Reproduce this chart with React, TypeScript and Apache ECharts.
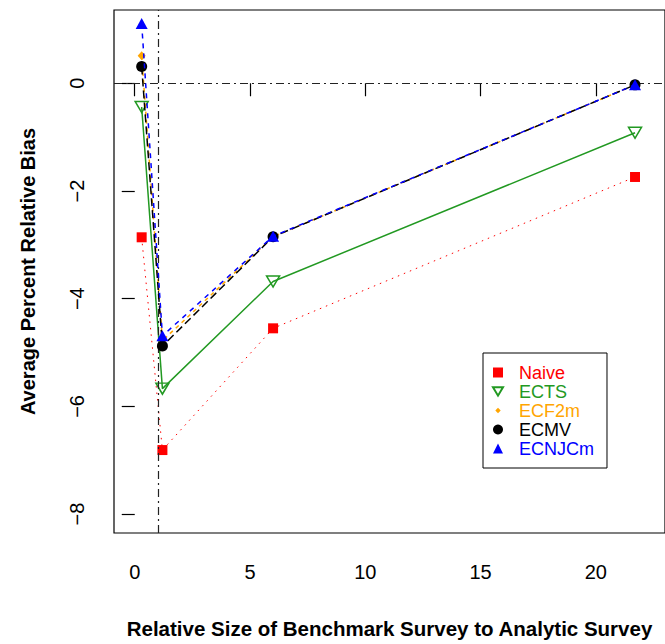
import React, { useEffect, useRef } from "react";
import * as echarts from "echarts";

const xVals = [0.3, 1.2, 6, 21.7];
const naive = [-2.86, -6.81, -4.55, -1.74];
const ects = [-0.44, -5.67, -3.68, -0.92];
const ecf2m = [0.51, -4.78, -2.85, -0.03];
const ecmv = [0.31, -4.88, -2.85, -0.03];
const ecnjcm = [1.11, -4.69, -2.84, -0.03];

const xTicks = [0, 5, 10, 15, 20];
const yTicks = [-8, -6, -4, -2, 0];

const seriesNames = ["Naive", "ECTS", "ECF2m", "ECMV", "ECNJCm"];
const seriesColors = ["#FF0000", "#229922", "#FFA500", "#000000", "#0000FF"];

const FONT = "'Liberation Sans', Arial, Helvetica, sans-serif";

const pair = (ys: number[]) => xVals.map((x, i) => [x, ys[i]]);

export default function App() {
  const ref = useRef<HTMLDivElement>(null);
  useEffect(() => {
    if (!ref.current) return;
    const chart = echarts.init(ref.current, null, { renderer: "svg" });
    const fmt = (v: number) => String(v).replace("-", "\u2212");
    chart.setOption({
      animation: false,
      backgroundColor: "#fff",
      textStyle: { fontFamily: FONT },
      grid: {
        left: 114,
        top: 10,
        width: 555,
        height: 524,
        show: true,
        borderColor: "#000",
        borderWidth: 1.2,
        containLabel: false,
      },
      xAxis: {
        type: "value",
        min: -0.9,
        max: 23,
        axisLine: { show: false },
        splitLine: { show: false },
        axisTick: {
          show: true,
          length: 13,
          customValues: xTicks,
          lineStyle: { color: "#000", width: 1.2 },
        },
        axisLabel: {
          customValues: xTicks,
          formatter: fmt,
          fontSize: 20,
          color: "#000",
          margin: 29,
          fontFamily: FONT,
        },
        name: "Relative Size of Benchmark Survey to Analytic Survey",
        nameLocation: "middle",
        nameGap: 85,
        nameTextStyle: { fontSize: 20.5, fontWeight: "bold", color: "#000", fontFamily: FONT },
      },
      yAxis: {
        type: "value",
        min: -8.35,
        max: 1.36,
        axisLine: { show: false },
        splitLine: { show: false },
        axisTick: {
          show: true,
          length: 13,
          customValues: yTicks,
          lineStyle: { color: "#000", width: 1.2 },
        },
        axisLabel: {
          customValues: yTicks,
          formatter: fmt,
          rotate: 90,
          fontSize: 20,
          color: "#000",
          margin: 27,
          fontFamily: FONT,
        },
        name: "Average Percent Relative Bias",
        nameLocation: "middle",
        nameRotate: 90,
        nameGap: 76,
        nameTextStyle: { fontSize: 20, fontWeight: "bold", color: "#000", fontFamily: FONT },
      },
      legend: {
        orient: "vertical",
        left: 483,
        top: 353,
        padding: [10, 13, 10, 9],
        borderColor: "#000",
        borderWidth: 1,
        itemWidth: 10,
        itemHeight: 10,
        itemGap: 0,
        textStyle: { fontSize: 18, lineHeight: 19, padding: [0, 0, 0, 11], fontFamily: FONT },
        data: [
          { name: "Naive", icon: "rect", textStyle: { color: seriesColors[0] } },
          { name: "ECTS", icon: "path://M0,0L12,0L6,10Z", textStyle: { color: seriesColors[1] } },
          { name: "ECF2m", icon: "path://M0,0M10,10M5,2.3L7.7,5L5,7.7L2.3,5Z", textStyle: { color: seriesColors[2] } },
          { name: "ECMV", icon: "circle", textStyle: { color: seriesColors[3] } },
          { name: "ECNJCm", icon: "triangle", textStyle: { color: seriesColors[4] } },
        ],
      },
      series: [
        {
          name: seriesNames[0],
          type: "line",
          data: pair(naive),
          symbol: "rect",
          symbolSize: 10,
          itemStyle: { color: seriesColors[0] },
          lineStyle: { color: seriesColors[0], width: 1, type: [1.5, 5] },
          markLine: {
            silent: true,
            symbol: "none",
            label: { show: false },
            lineStyle: { color: "#222", width: 1.2, type: [8, 4, 2, 4] },
            data: [{ xAxis: 1 }, { yAxis: 0 }],
          },
          z: 2,
        },
        {
          name: seriesNames[1],
          type: "line",
          data: pair(ects),
          symbol: "path://M0,0L12,0L6,10Z",
          symbolSize: [13, 11],
          itemStyle: { color: "rgba(0,0,0,0)", borderColor: seriesColors[1], borderWidth: 1.5 },
          lineStyle: { color: seriesColors[1], width: 1.5, type: "solid" },
          z: 3,
        },
        {
          name: seriesNames[2],
          type: "line",
          data: pair(ecf2m),
          symbol: "diamond",
          symbolSize: [8, 9],
          itemStyle: { color: seriesColors[2] },
          lineStyle: { color: seriesColors[2], width: 1.5, type: [4, 4] },
          z: 4,
        },
        {
          name: seriesNames[3],
          type: "line",
          data: pair(ecmv),
          symbol: "circle",
          symbolSize: 11,
          itemStyle: { color: seriesColors[3] },
          lineStyle: { color: seriesColors[3], width: 1.5, type: [8, 4] },
          z: 5,
        },
        {
          name: seriesNames[4],
          type: "line",
          data: pair(ecnjcm),
          symbol: "triangle",
          symbolSize: [12, 11],
          itemStyle: { color: seriesColors[4] },
          lineStyle: { color: seriesColors[4], width: 1.5, type: [5, 5] },
          z: 6,
        },
      ],
    });
    return () => chart.dispose();
  }, []);
  return (
    <div
      ref={ref}
      style={{ position: "absolute", left: 0, top: 0, width: 665, height: 644 }}
    />
  );
}
